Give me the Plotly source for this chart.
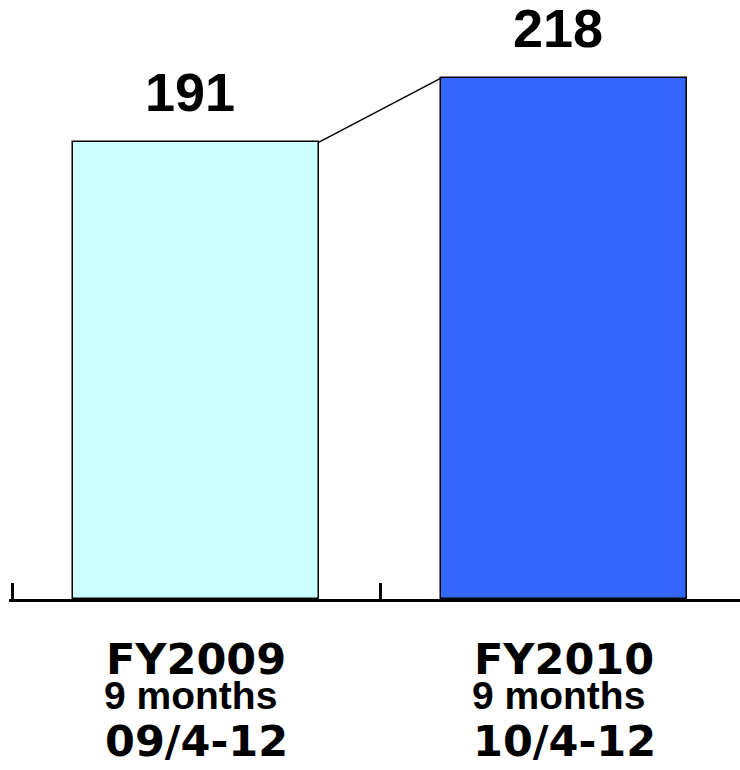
import plotly.graph_objects as go

# Nine-month results, FY2009 vs FY2010
periods = ["FY2009", "FY2010"]
period_spans = ["09/4-12", "10/4-12"]
period_length = "9 months"
values = [191, 218]
bar_colors = ["#CCFFFF", "#3366FF"]

x_pos = list(range(len(periods)))
bar_width = 0.666

# one category slot spans 368 px; the plot starts a few px left of the first slot
slot_px = 368
left_pad_px = 3

fig = go.Figure()

fig.add_trace(go.Bar(
    x=x_pos,
    y=values,
    width=bar_width,
    marker=dict(color=bar_colors, line=dict(color="black", width=1.5)),
    hoverinfo="skip",
    showlegend=False,
))

# connector from the top-right corner of the first bar to the top-left of the second
fig.add_trace(go.Scatter(
    x=[x_pos[0] + bar_width / 2, x_pos[1] - bar_width / 2],
    y=[values[0], values[1]],
    mode="lines",
    line=dict(color="black", width=1.5),
    hoverinfo="skip",
    showlegend=False,
))

value_font = dict(family="Liberation Sans, Arial, sans-serif", size=54, color="black", weight="bold")
for xi, v in zip(x_pos, values):
    fig.add_annotation(
        x=xi - 0.015, y=v, xref="x", yref="y",
        text=str(v), showarrow=False,
        yanchor="middle", yshift=50,
        font=value_font,
    )

wide_font = dict(family="DejaVu Sans, sans-serif", size=43, color="black", weight="bold")
narrow_font = dict(family="Liberation Sans, Arial, sans-serif", size=39, color="black", weight="bold")
for xi, name, span in zip(x_pos, periods, period_spans):
    fig.add_annotation(x=xi, y=0, xref="x", yref="paper", text=name,
                       showarrow=False, yanchor="middle", yshift=-60, font=wide_font)
    fig.add_annotation(x=xi - 0.015, y=0, xref="x", yref="paper", text=period_length,
                       showarrow=False, yanchor="middle", yshift=-96, font=narrow_font)
    fig.add_annotation(x=xi, y=0, xref="x", yref="paper", text=span,
                       showarrow=False, yanchor="middle", yshift=-142, font=wide_font)

x_start = -0.5 - left_pad_px / slot_px
fig.update_layout(
    width=740, height=770,
    margin=dict(l=12 - left_pad_px, r=0, t=0, b=171),
    paper_bgcolor="white", plot_bgcolor="white",
    bargap=0,
    xaxis=dict(
        range=[x_start, x_start + (740 - 12 + left_pad_px) / slot_px],
        showgrid=False, zeroline=False,
        showline=True, linecolor="black", linewidth=3,
        tickmode="array", tickvals=[-0.5, 0.5, 1.5],
        ticks="inside", ticklen=16, tickwidth=3, tickcolor="black",
        showticklabels=False,
    ),
    yaxis=dict(range=[0, 250.6], visible=False),
)

fig.write_html("out.html")
